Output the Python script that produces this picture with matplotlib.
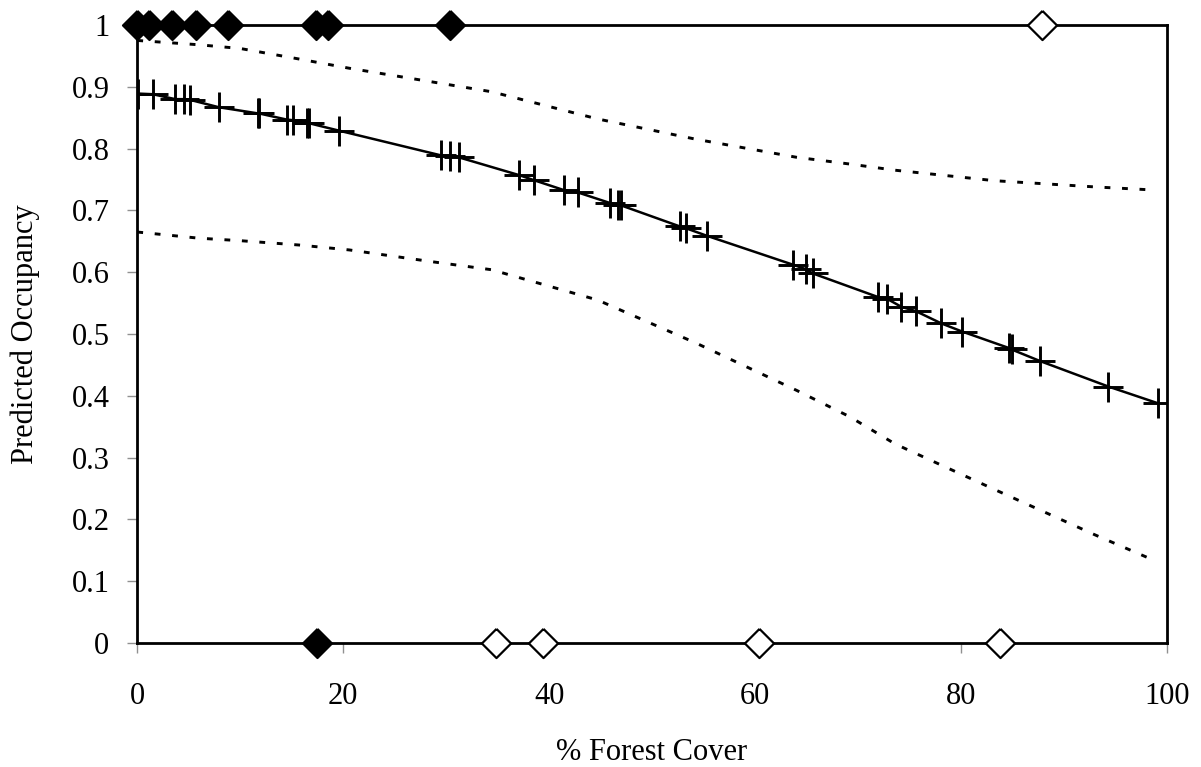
import matplotlib
matplotlib.use("Agg")
import matplotlib.pyplot as plt

# ------ SETUP DATA -------
# predicted occupancy for each site along the forest cover gradient
SITE_COVER = [0.1, 1.5, 3.7, 4.5, 5.1, 7.9, 11.7, 11.8, 14.5, 15.1,
              16.5, 16.7, 19.6, 29.5, 30.4, 31.2, 37.1, 38.5, 41.4, 42.8,
              45.9, 46.7, 47.0, 52.7, 53.3, 55.3, 63.7, 64.9, 65.6, 71.9,
              72.8, 74.2, 75.6, 78.1, 80.1, 84.7, 84.9, 87.7, 94.3, 99.1]
SITE_OCC = [0.889, 0.888, 0.880, 0.880, 0.879, 0.867, 0.857, 0.857, 0.847, 0.846,
            0.842, 0.841, 0.829, 0.789, 0.788, 0.786, 0.757, 0.749, 0.733, 0.729,
            0.712, 0.709, 0.708, 0.674, 0.671, 0.659, 0.612, 0.605, 0.598, 0.560,
            0.557, 0.544, 0.537, 0.517, 0.504, 0.477, 0.475, 0.456, 0.415, 0.388]

# 95% confidence limits
CI_COVER = [0.0, 6.0, 10.0, 15.7, 20.6, 28.6, 34.4, 44.7, 54.3, 64.0,
            69.2, 73.6, 83.3, 93.0, 98.7]
CI_UPPER = [0.975, 0.968, 0.962, 0.945, 0.930, 0.908, 0.892, 0.848, 0.815, 0.786,
            0.775, 0.765, 0.748, 0.738, 0.733]
CI_LOWER = [0.665, 0.655, 0.651, 0.644, 0.636, 0.617, 0.604, 0.555, 0.485, 0.409,
            0.366, 0.322, 0.248, 0.175, 0.134]

# observed detections (1) and non-detections (0)
DETECTED_COVER = [0.0, 1.1, 3.4, 5.7, 8.8, 17.4, 18.5, 30.4]
DETECTED_COVER_ZERO = [17.5]
MISSED_COVER_ONE = [87.9]
MISSED_COVER = [34.8, 39.4, 60.4, 83.8]

plt.rcParams['font.family'] = ['Liberation Serif', 'DejaVu Serif']

fig = plt.figure(figsize=(12.01, 7.67), dpi=100)
ax = fig.add_axes([0.1143, 0.1617, 0.8574, 0.8057])

# ------- PLOT DATA -------
dash = (0, (2.0, 4.0))
ax.plot(CI_COVER, CI_UPPER, color='black', lw=2.1, linestyle=dash)
ax.plot(CI_COVER, CI_LOWER, color='black', lw=2.1, linestyle=dash)
ax.plot(SITE_COVER, SITE_OCC, color='black', lw=1.8, marker='+',
        markersize=21.5, markeredgewidth=2.1)

diamond = [(0, 1), (1, 0), (0, -1), (-1, 0), (0, 1)]
ax.plot(DETECTED_COVER, [1] * len(DETECTED_COVER), linestyle='none',
        marker=diamond, markersize=21, markerfacecolor='black',
        markeredgecolor='black', markeredgewidth=1.5, clip_on=False, zorder=5)
ax.plot(DETECTED_COVER_ZERO, [0] * len(DETECTED_COVER_ZERO), linestyle='none',
        marker=diamond, markersize=21, markerfacecolor='black',
        markeredgecolor='black', markeredgewidth=1.5, clip_on=False, zorder=5)
ax.plot(MISSED_COVER_ONE, [1] * len(MISSED_COVER_ONE), linestyle='none',
        marker=diamond, markersize=21, markerfacecolor='white',
        markeredgecolor='black', markeredgewidth=1.6, clip_on=False, zorder=5)
ax.plot(MISSED_COVER, [0] * len(MISSED_COVER), linestyle='none',
        marker=diamond, markersize=21, markerfacecolor='white',
        markeredgecolor='black', markeredgewidth=1.6, clip_on=False, zorder=5)

# ------- PLOT INFORMATION -------
ax.set_xlim(0, 100)
ax.set_ylim(0, 1)
ax.set_xticks([0, 20, 40, 60, 80, 100])
ax.set_yticks([0, 0.1, 0.2, 0.3, 0.4, 0.5, 0.6, 0.7, 0.8, 0.9, 1])
ax.set_yticklabels(['0', '0.1', '0.2', '0.3', '0.4', '0.5', '0.6', '0.7',
                    '0.8', '0.9', '1'])
ax.tick_params(axis='both', direction='out', length=7, width=1,
               color='#909090', labelsize=22)
ax.tick_params(axis='y', pad=13)
ax.tick_params(axis='x', pad=21)
for side in ax.spines.values():
    side.set_linewidth(2.0)
    side.set_color('black')

fig.text(652 / 1201, 1 - 752 / 767, '% Forest Cover', fontsize=22,
         ha='center', va='center')
fig.text(25 / 1201, 1 - 334 / 767, 'Predicted Occupancy', fontsize=22,
         ha='center', va='center', rotation=90)

fig.savefig('out.png', dpi=100)
